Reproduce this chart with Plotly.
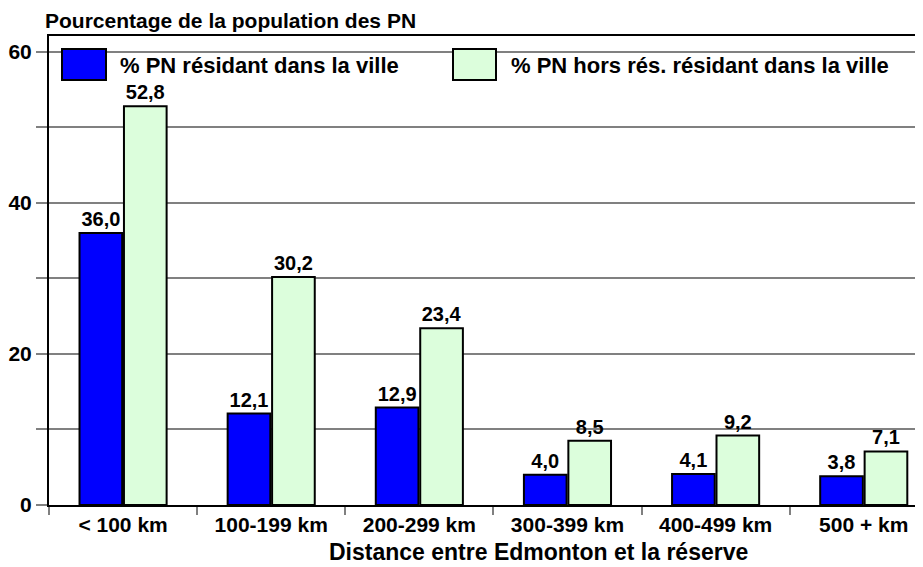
import plotly.graph_objects as go

categories = ["< 100 km", "100-199 km", "200-299 km", "300-399 km", "400-499 km", "500 + km"]
series_names = ["% PN résidant dans la ville", "% PN hors rés. résidant dans la ville"]
resident = [36.0, 12.1, 12.9, 4.0, 4.1, 3.8]
non_resident = [52.8, 30.2, 23.4, 8.5, 9.2, 7.1]
y_tick_values = [0, 10, 20, 30, 40, 50, 60]
y_tick_labels = ["0", "", "20", "", "40", "", "60"]
y_title = "Pourcentage de la population des PN"
x_title = "Distance entre Edmonton et la réserve"

colors = ["#0000FF", "#DCFEDC"]
FONT = "Liberation Sans, Arial, sans-serif"

# page body adds an 8px margin; lay the figure out so the plot lands at reference pixels
OFF = 8
W, H = 923 - OFF, 567 - OFF
ml, mr, mt, mb = 49 - OFF, 0, 36 - OFF, 62
pw = W - ml - mr
ph = H - mt - mb

def px(x):
    return (x - 49) / pw

def py(y):
    return (505 - y) / ph

fig = go.Figure()
for name, vals, col in zip(series_names, [resident, non_resident], colors):
    fig.add_trace(go.Bar(
        x=categories, y=vals, name=name,
        marker=dict(color=col, line=dict(color="black", width=2)),
        texttemplate="%{y:.1f}", textposition="outside",
        textfont=dict(family=FONT, size=20, color="black", weight="bold"),
        cliponaxis=False, showlegend=False,
    ))

shapes = [
    dict(type="rect", xref="paper", yref="paper", x0=px(60), x1=1.0, y0=py(88), y1=py(40),
         fillcolor="white", line=dict(width=0), layer="between"),
]
annotations = [
    dict(text=y_title, xref="paper", yref="paper", x=px(43), y=py(20), xanchor="left", yanchor="middle",
         showarrow=False, font=dict(family=FONT, size=21, color="black", weight="bold")),
    dict(text=x_title, xref="paper", yref="paper", x=px(538), y=py(552), xanchor="center", yanchor="middle",
         showarrow=False, font=dict(family=FONT, size=23, color="black", weight="bold")),
]
legend_boxes = [(62, 106, 118), (453, 496, 509)]
for (x0, x1, tx), name, col in zip(legend_boxes, series_names, colors):
    shapes.append(dict(type="rect", xref="paper", yref="paper", x0=px(x0), x1=px(x1), y0=py(80), y1=py(49),
                       fillcolor=col, line=dict(color="black", width=2), layer="above"))
    annotations.append(dict(text=name, xref="paper", yref="paper", x=px(tx), y=py(65), xanchor="left",
                            yanchor="middle", showarrow=False,
                            font=dict(family=FONT, size=22, color="black", weight="bold")))

fig.update_layout(
    width=W, height=H,
    margin=dict(l=ml, r=mr, t=mt, b=mb, pad=0),
    paper_bgcolor="white", plot_bgcolor="white",
    separators=", ",
    font=dict(family=FONT, size=21, color="black", weight="bold"),
    barmode="group", bargap=0.4, bargroupgap=0.04,
    shapes=shapes, annotations=annotations,
    xaxis=dict(range=[-0.5, 5.4], showline=True, linecolor="black", linewidth=2, mirror=True,
               ticks="outside", tickson="boundaries", ticklen=8, tickcolor="#808080", tickwidth=2,
               showgrid=False, tickfont=dict(family=FONT, size=21, weight="bold")),
    yaxis=dict(range=[0, 62.1], showline=True, linecolor="black", linewidth=2,
               tickmode="array", tickvals=y_tick_values, ticktext=y_tick_labels,
               ticks="outside", ticklen=11, tickcolor="#808080", tickwidth=2,
               showgrid=True, gridcolor="#808080", gridwidth=2, zeroline=False,
               tickfont=dict(family=FONT, size=21, weight="bold")),
)
fig.write_html("out.html")
